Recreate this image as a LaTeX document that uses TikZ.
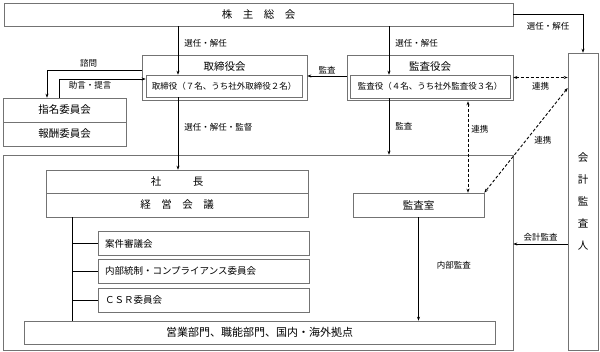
\documentclass[tikz,border=0pt]{standalone}
\usepackage{fontspec}
\setmainfont{Noto Sans CJK JP}
\usetikzlibrary{arrows.meta,positioning,calc}

\begin{document}
\begin{tikzpicture}[x=1pt,y=-1pt,
  box/.style={draw=black!55,line width=0.6pt,inner sep=0pt,font=\fontsize{10.5}{12}\selectfont},
  inbox/.style={box,font=\fontsize{8.5}{10}\selectfont},
  subbox/.style={box,minimum height=24pt,inner xsep=7pt,text width=197pt,align=left,font=\fontsize{9.5}{11}\selectfont},
  ttl/.style={font=\fontsize{10.5}{12}\selectfont},
  lbl/.style={font=\fontsize{8.5}{10}\selectfont,inner sep=2pt},
  arr/.style={-{Stealth[length=4pt,width=3pt]},line width=0.6pt},
  link/.style={{Stealth[length=4pt,width=3pt]}-{Stealth[length=4pt,width=3pt]},line width=0.9pt,dash pattern=on 3pt off 2pt}]
\useasboundingbox (0,0) rectangle (600,352);

\node[box,minimum width=509pt,minimum height=23pt] (sh) at (258.5,14.5) {株　主　総　会};

\node[box,minimum width=165pt,minimum height=45pt] (bod) at (224.5,77.5) {};
\node[ttl] (bodt) at (224.5,66.5) {取締役会};
\node[inbox,minimum width=156pt,minimum height=22pt] (bodin) at (224,86) {取締役（７名、うち社外取締役２名）};

\node[box,minimum width=166pt,minimum height=45pt] (kan) at (430,77.5) {};
\node[ttl] (kant) at (430,66.5) {監査役会};
\node[inbox,minimum width=160pt,minimum height=23pt] (kanin) at (430,86.5) {監査役（４名、うち社外監査役３名）};

\node[box,minimum width=123pt,minimum height=24pt] (shimei) at (64.5,110) {指名委員会};
\node[box,minimum width=123pt,minimum height=24pt] (hoshu) at (64.5,134) {報酬委員会};

\node[box,minimum width=510pt,minimum height=195pt] (exec) at (258,252.5) {};
\node[box,minimum width=262pt,minimum height=23pt] (shacho) at (177,181.5) {社　　　長};
\node[box,minimum width=262pt,minimum height=24pt] (keiei) at (177,205) {経　営　会　議};
\node[subbox] (anken) at (203.5,243.5) {案件審議会};
\node[subbox] (naibu) at (203.5,271) {内部統制・コンプライアンス委員会};
\node[subbox] (csr) at (203.5,300) {ＣＳＲ委員会};
\node[box,minimum width=471pt,minimum height=23pt,font=\fontsize{11}{12}\selectfont] (eigyo) at (259.5,332.5) {営業部門、職能部門、国内・海外拠点};
\node[box,minimum width=131pt,minimum height=24pt] (kansa) at (418.5,205) {監査室};

\node[box,minimum width=30pt,minimum height=297pt,align=center,font=\fontsize{10.5}{22}\selectfont] (kaikei) at (583,201.5) {会\\計\\監\\査\\人};

\coordinate (xl) at (178,0);
\coordinate (xr) at (389,0);
\coordinate (xd) at (468,0);
\coordinate (xt) at (72,0);

\draw[arr] (sh.south -| xl) -- (bodin.north -| xl) node[lbl,pos=0.35,right=4pt] {選任・解任};
\draw[arr] (sh.south -| xr) -- (kanin.north -| xr) node[lbl,pos=0.35,right=4pt] {選任・解任};
\draw[arr] (sh.east) -| (kaikei.north) node[lbl,pos=0.25,below=6pt] {選任・解任};

\draw[arr] ([yshift=7.5pt]bod.west) -| ([xshift=-17.5pt]shimei.north) node[lbl,pos=0.28,above] {諮問};
\draw[arr] ([xshift=-5.5pt]shimei.north) |- ([yshift=7pt]bodin.west) node[lbl,pos=0.68,below] {助言・提言};
\draw[arr] ([yshift=1.5pt]kan.west) -- ([yshift=1.5pt]bod.east) node[lbl,midway,above] {監査};

\draw[arr] (bodin.south -| xl) -- (shacho.north -| xl) node[lbl,pos=0.42,right=4pt] {選任・解任・監督};
\draw[arr] (kanin.south -| xr) -- (exec.north -| xr) node[lbl,midway,right=4pt] {監査};

% tree of committees
\draw[line width=0.6pt] (keiei.south -| xt) -- (eigyo.north -| xt);
\foreach \n in {anken,naibu,csr}
  \draw[line width=0.6pt] (\n.west -| xt) -- (\n.west);

\draw[arr] (kansa.south) -- (kansa.south |- eigyo.north) node[lbl,pos=0.46,right=16pt] {内部監査};
\draw[arr] ([yshift=-42.5pt]kaikei.west) -- ([yshift=-42.5pt]kaikei.west -| exec.east) node[lbl,midway,above] {会計監査};

% cooperation links
\draw[link] ([yshift=-3pt]kanin.south -| xd) -- (kansa.north -| xd) node[lbl,pos=0.31,right=1pt] {連携};
\draw[link] (kan.east) -- (kan.east -| kaikei.west) node[lbl,midway,below=2pt] {連携};
\draw[link] ([yshift=113.5pt]kaikei.west) -- (kansa.north east) node[lbl,midway,right=6pt] {連携};
\end{tikzpicture}
\end{document}
